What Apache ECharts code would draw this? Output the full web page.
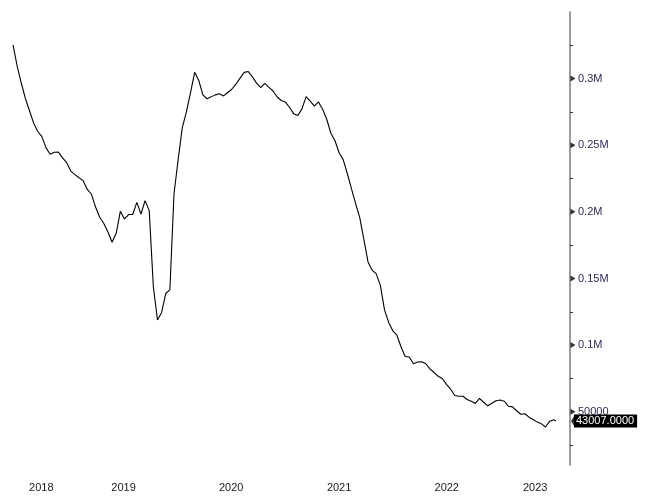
<!DOCTYPE html>
<html><head><meta charset="utf-8">
<script src="https://cdn.jsdelivr.net/npm/echarts@6/dist/echarts.min.js"></script>
<style>html,body{margin:0;padding:0;background:#fff}#c{width:648px;height:504px}</style>
</head><body><div id="c"></div>
<script>
const dates = [
'2018-06-22','2018-07-06','2018-07-20','2018-08-03','2018-08-17','2018-08-31','2018-09-14','2018-09-28','2018-10-12','2018-10-26','2018-11-09','2018-11-23','2018-12-07','2018-12-21',
'2019-01-04','2019-01-18','2019-02-01','2019-02-15','2019-03-01','2019-03-15','2019-03-29','2019-04-12','2019-04-26','2019-05-10','2019-05-24','2019-06-07','2019-06-21','2019-07-05','2019-07-19','2019-08-02','2019-08-16','2019-08-30','2019-09-13','2019-09-27','2019-10-11','2019-10-25','2019-11-08','2019-11-22','2019-12-06','2019-12-20',
'2020-01-03','2020-01-17','2020-01-31','2020-02-14','2020-02-28','2020-03-13','2020-03-27','2020-04-10','2020-04-24','2020-05-08','2020-05-22','2020-06-05','2020-06-19','2020-07-03','2020-07-17','2020-07-31','2020-08-14','2020-08-28','2020-09-11','2020-09-25','2020-10-09','2020-10-23','2020-11-06','2020-11-20','2020-12-04','2020-12-18',
'2021-01-01','2021-01-15','2021-01-29','2021-02-12','2021-02-26','2021-03-12','2021-03-26','2021-04-09','2021-04-23','2021-05-07','2021-05-21','2021-06-04','2021-06-18','2021-07-02','2021-07-16','2021-07-30','2021-08-13','2021-08-27','2021-09-10','2021-09-24','2021-10-08','2021-10-22','2021-11-05','2021-11-19','2021-12-03','2021-12-17','2021-12-31',
'2022-01-14','2022-01-28','2022-02-11','2022-02-25','2022-03-11','2022-03-25','2022-04-08','2022-04-22','2022-05-06','2022-05-20','2022-06-03','2022-06-17','2022-07-01','2022-07-15','2022-07-29','2022-08-12','2022-08-26','2022-09-09','2022-09-23','2022-10-07','2022-10-21','2022-11-04','2022-11-18','2022-12-02','2022-12-16','2022-12-30',
'2023-01-13','2023-01-27','2023-02-10','2023-02-24','2023-03-10','2023-03-24','2023-04-07','2023-04-21','2023-05-05','2023-05-19','2023-06-02','2023-06-16','2023-06-30','2023-07-07'
];
const values = [
325300,309500,296700,285100,275900,266600,260300,256500,248000,243200,244700,244800,240500,236900,
230600,227900,225600,223400,216800,213200,203600,196000,191300,184900,177200,183900,200400,194700,198000,198000,207100,198400,208400,200900,143600,118800,124500,138700,141400,213400,
239000,263000,275000,289300,304700,298600,287800,284900,286300,287800,288600,287000,289600,292000,295800,300400,304700,305300,301300,296600,293200,296400,293400,290700,286200,283600,
282400,278300,273700,272300,277300,286500,283100,279400,282500,277000,269500,259000,253400,244400,239000,228600,217200,206100,195700,179100,162400,156200,153400,144600,126400,117000,110700,
107400,98600,91400,91100,86000,87300,87500,86000,82100,79400,76600,74900,70500,67000,62200,61600,61600,59200,57800,56200,60000,57100,54400,56300,58200,58800,
57900,54100,53600,50700,48100,48500,45900,44100,42200,40900,38500,42900,43900,43007
];
const yearLabelDates = ['2018-09-26','2019-07-02','2020-07-01','2021-07-02','2022-07-02','2023-04-28'];
const yLabelValues = [50000,100000,150000,200000,250000,300000];
const yMinorTicks = [25000,75000,125000,175000,225000,275000,325000];
const lastValue = 43007;
const xMin = '2018-06-22', xMax = '2023-08-24';
const yMin = 10000, yMax = 350000;

const ts = s => Date.UTC(+s.slice(0,4), +s.slice(5,7)-1, +s.slice(8,10));
const font = 'Liberation Sans, Arial, sans-serif';
const chart = echarts.init(document.getElementById('c'), null, {renderer:'canvas'});
chart.setOption({
  animation:false,
  backgroundColor:'#fff',
  grid:{left:13,right:78,top:12,bottom:39,outerBoundsMode:'none',containLabel:false},
  xAxis:{
    type:'value', min:ts(xMin), max:ts(xMax), scale:true,
    axisLine:{show:false}, axisTick:{show:false}, splitLine:{show:false},
    axisLabel:{
      customValues:yearLabelDates.map(ts),
      formatter:v=>String(new Date(v).getUTCFullYear()),
      color:'#1a1a1a', fontSize:11, fontFamily:font, margin:17,
      showMinLabel:true, showMaxLabel:true, hideOverlap:false
    }
  },
  yAxis:{
    type:'value', position:'right', min:yMin, max:yMax,
    axisLine:{show:true, onZero:false, lineStyle:{color:'#7a7a7a', width:1.5}},
    axisTick:{show:true, customValues:yMinorTicks, length:3, lineStyle:{color:'#333', width:1}},
    splitLine:{show:false},
    axisLabel:{
      customValues:yLabelValues,
      formatter:v=> v>=100000 ? (v/1e6)+'M' : String(v),
      color:'#2b2b55', fontSize:11, fontFamily:font, margin:8
    }
  },
  series:[
    {
      type:'line', data:dates.map((d,i)=>[ts(d),values[i]]),
      showSymbol:false, symbol:'none', lineStyle:{color:'#000', width:1.1},
      markLine:{
        silent:true, symbol:['none','none'],
        lineStyle:{color:'rgba(0,0,0,0)', width:1, type:'solid'},
        data:[{yAxis:lastValue}],
        label:{
          show:true, position:'end', distance:4,
          formatter:()=>lastValue.toFixed(4),
          color:'#fff', backgroundColor:'#000', padding:[1,3,0,2], lineHeight:12,
          fontSize:11, fontFamily:font
        }
      }
    },
    {
      type:'scatter', silent:true, clip:false, z:5,
      data:yLabelValues.map(v=>[ts(xMax),v]),
      symbol:'path://M0,0 L10,5 L0,10 Z', symbolSize:[5,6], symbolOffset:[3,0],
      itemStyle:{color:'#000'}
    },
    {
      type:'scatter', silent:true, clip:false, z:6,
      data:[[ts(xMax),lastValue]],
      symbol:'path://M10,0 L0,5 L10,10 Z', symbolSize:[4,13], symbolOffset:[3,0],
      itemStyle:{color:'#000'}
    }
  ]
});
</script>
</body></html>
